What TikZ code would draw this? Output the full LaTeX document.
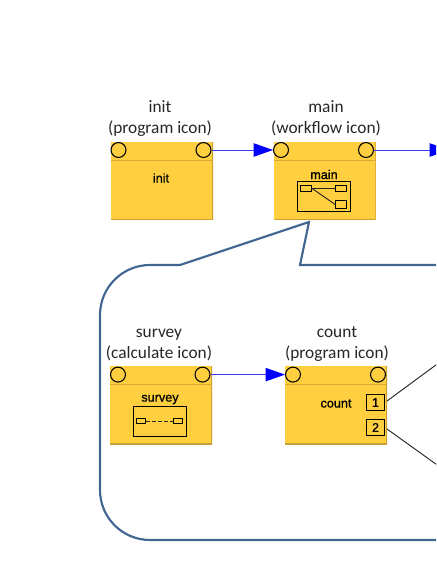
\documentclass[tikz,border=0pt]{standalone}
\usepackage{fontspec}
\setmainfont{Carlito}
\newfontfamily\iconfont[FakeBold=0.9]{Liberation Sans}
\usepackage{tikz}
\usetikzlibrary{arrows.meta}
\definecolor{boxfill}{HTML}{FFCF3F}
\definecolor{boxedge}{HTML}{C9A235}
\definecolor{calloutblue}{HTML}{41668F}
\definecolor{flowblue}{HTML}{3A3AF5}
\begin{document}
\begin{tikzpicture}[x=0.75pt,y=-0.75pt]
\tikzstyle{box}=[fill=boxfill,inner sep=0pt,minimum width=76.5pt,minimum height=58.5pt,
  path picture={
    \draw[boxedge,line width=1pt] (path picture bounding box.north east) -- (path picture bounding box.south east) -- (path picture bounding box.south west);
    \draw[boxedge!80!boxfill,line width=0.7pt] ([yshift=-14pt]path picture bounding box.north west) -- ([yshift=-14pt]path picture bounding box.north east);
  }]
\tikzstyle{port}=[draw,circle,line width=0.8pt,inner sep=0pt,minimum size=11.2pt]
\tikzstyle{caption}=[align=center,font=\fontsize{13}{15.75}\selectfont,text=black!85]
\tikzstyle{iconlabel}=[font=\iconfont\fontsize{9.5}{11}\selectfont,inner sep=0pt]
\tikzstyle{flow}=[flowblue,line width=0.7pt,-{Triangle[length=14.5pt,width=10pt,color=blue]}]
\tikzstyle{icon}=[draw,line width=0.75pt,inner sep=0pt]
\tikzstyle{link}=[draw=black!85,line width=0.7pt]
\clip (0,0) rectangle (436,564);

% callout behind the boxes
\coordinate (tip) at (309,222);
\coordinate (calloutright) at (445,265);
\coordinate (calloutbottom) at (445,540);
\draw[calloutblue,line width=1.6pt] (calloutbottom) -- (150,540) .. controls (122.4,540) and (100,517.6) .. (100,490) -- (100,315) .. controls (100,287.4) and (122.4,265) .. (150,265) -- (180,265) -- (tip) -- (300,265) -- (calloutright);

% outer row
\node[box] (init) at (162,180.5) {};
\node[box] (main) at (324.5,180.5) {};
\node[port] (initin) at (118.5,150) {};
\node[port] (initout) at (203.5,150) {};
\node[port] (mainin) at (281,150) {};
\node[port] (mainout) at (366,150) {};
\coordinate (next) at (449,150);
\node[caption] (initcap) at (160,118.5) {init\\(program icon)};
\node[caption] (maincap) at (326,118.5) {main\\(workflow icon)};
\node[iconlabel] (initlabel) at (161,178) {init};
\node[iconlabel] (mainlabel) at (324,174.5) {main};

\draw[flow] (initout) -- (mainin);
\draw[flow] (mainout) -- (next);

% workflow icon
\node[icon,minimum width=39.75pt,minimum height=22.75pt] (wficon) at (323.5,196.3) {};
\node[icon,minimum width=8pt,minimum height=4.5pt] (wfa) at (306,188.3) {};
\node[icon,minimum width=8pt,minimum height=4.5pt] (wfb) at (341,188.3) {};
\node[icon,minimum width=8pt,minimum height=5.5pt] (wfc) at (341,204.5) {};
\draw[link] (wfa) -- (wfb);
\draw[link] (wfa.east) -- (wfc.west);

% inner row
\node[box] (survey) at (161,405) {};
\node[box] (count) at (336,405) {};
\node[port] (surveyin) at (118,374.6) {};
\node[port] (surveyout) at (202.5,374.6) {};
\node[port] (countin) at (293,374.6) {};
\node[port] (countout) at (378,374.6) {};
\node[caption] (surveycap) at (159,344.5) {survey\\(calculate icon)};
\node[caption] (countcap) at (337,344.5) {count\\(program icon)};
\node[iconlabel] (surveylabel) at (160,399.5) {survey};
\node[iconlabel] (countlabel) at (336,403.5) {count};

\draw[flow] (surveyout) -- (countin);

% calculate icon
\node[icon,minimum width=39.75pt,minimum height=22.75pt] (calcicon) at (159.5,421.3) {};
\node[icon,minimum width=6.75pt,minimum height=3.75pt] (calca) at (141,421) {};
\node[icon,minimum width=6.75pt,minimum height=3.75pt] (calcb) at (178,421) {};
\draw[link,dash pattern=on 3pt off 1.5pt] (calca) -- (calcb);

% count outputs
\node[icon,fill=boxfill,font=\iconfont\fontsize{9.5}{11}\selectfont,minimum width=13.5pt,minimum height=12.5pt] (one) at (375.5,402.5) {1};
\node[icon,fill=boxfill,font=\iconfont\fontsize{9.5}{11}\selectfont,minimum width=13.5pt,minimum height=12.5pt] (two) at (375.5,427.5) {2};
\coordinate (upper) at (440,362);
\coordinate (lower) at (440,467);
\draw[link] (one.east) ++(2,-1.5) coordinate (oneend) (oneend) -- (upper);
\draw[link] (two.east) ++(2,1.5) coordinate (twoend) (twoend) -- (lower);
\end{tikzpicture}
\end{document}
